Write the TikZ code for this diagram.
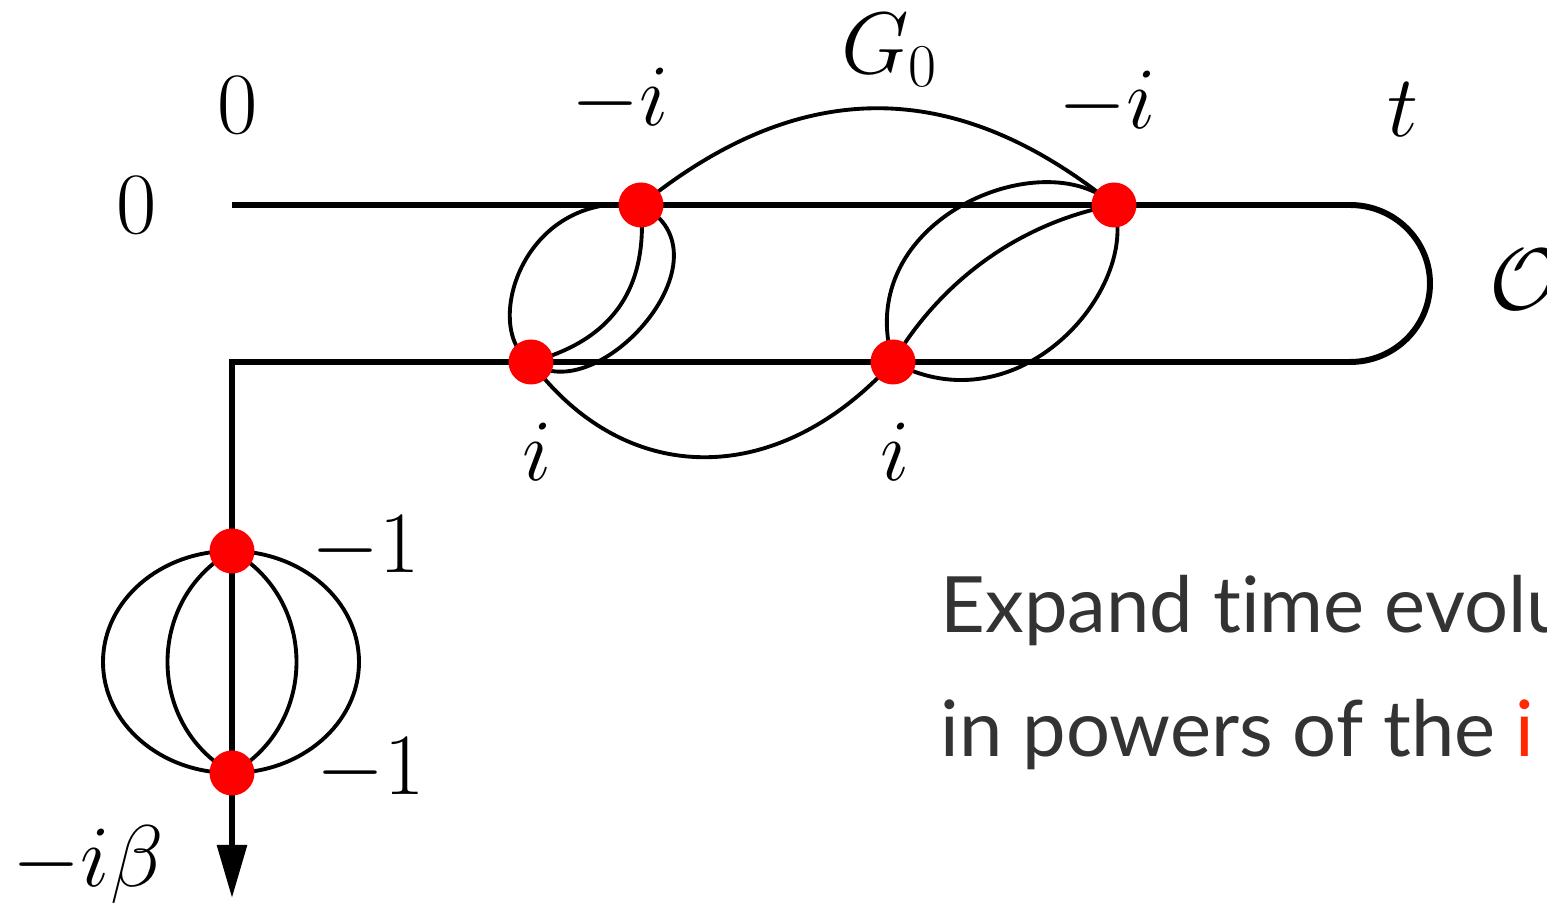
\documentclass[tikz,border=0pt]{standalone}
\usepackage{amsmath,amssymb}
\usepackage{fontspec}
\usepackage{xcolor}
\usepackage{tikz}
\usetikzlibrary{arrows.meta}
\newfontfamily\slidefont[Ligatures=NoCommon]{Lato}
\definecolor{vertexred}{RGB}{255,0,0}
\definecolor{slidegray}{RGB}{51,51,51}
\definecolor{slidered}{RGB}{255,40,0}

\begin{document}
\begin{tikzpicture}[x=0.01cm, y=-0.01cm,
  contour/.style={line width=1.7pt},
  prop/.style={line width=1.1pt},
  vertex/.style={fill=vertexred},
  slidetext/.style={anchor=base west, text=slidegray, font=\slidefont\fontsize{22.1}{26}\selectfont},
  every node/.style={font=\fontsize{25}{30}\selectfont, inner sep=0pt}]
  \useasboundingbox (0,0) rectangle (1547,907);
  \clip (0,0) rectangle (1547,907);
  \coordinate (start) at (232,205);
  \coordinate (turn) at (1350,205);
  \coordinate (corner) at (232,362);
  \coordinate (tip) at (232,898);
  \coordinate (ta) at (641,205);
  \coordinate (tb) at (1114,205);
  \coordinate (ba) at (531,362);
  \coordinate (bb) at (893,362);
  \coordinate (ea) at (232,551);
  \coordinate (eb) at (232,773);
  \coordinate (blob) at (231,662);
  \draw[contour, -{Triangle[length=0.53cm, width=0.29cm]}] (start) -- (turn) arc[start angle=-90, end angle=90, x radius=80, y radius=78.5] -- (corner) -- (tip);
  \draw[prop] (ta) .. controls +(-121,-15) and +(-50,-30) .. (ba);
  \draw[prop] (ba) .. controls +(65,50) and +(97,50) .. (ta);
  \draw[prop] (ta) .. controls +(8,90) and +(75,-20) .. (ba);
  \draw[prop] (ta) .. controls +(159,-129) and +(-159,-129) .. (tb);
  \draw[prop] (ba) .. controls +(95,127) and +(-115,127) .. (bb);
  \draw[prop] (tb) .. controls +(-70,-65) and +(-43,-142) .. (bb);
  \draw[prop] (bb) .. controls +(125,68) and +(26,85) .. (tb);
  \draw[prop] (bb) .. controls +(42,-72) and +(-104,20) .. (tb);
  \draw[prop] (blob) ellipse[x radius=128, y radius=111];
  \draw[prop] (ea) .. controls +(-86,48) and +(-86,-48) .. (eb);
  \draw[prop] (ea) .. controls +(86,48) and +(86,-48) .. (eb);
  \foreach \v in {ta,tb,ba,bb,ea,eb}
    \fill[vertex] (\v) circle[radius=22.5];
  \node (lzero1) at (238,105) {$0$};
  \node (lzero2) at (137,205) {$0$};
  \node (lmi1) at (620,100) {$-i$};
  \node (lgreen) at (890,50) {$G_0$};
  \node (lmi2) at (1107,103) {$-i$};
  \node (ltime) at (1403,110) {$t$};
  \node[anchor=west] (lop) at (1489,280) {$\mathcal{O}$};
  \node (li1) at (537,452) {$i$};
  \node (li2) at (895,452) {$i$};
  \node (lmone1) at (366,548) {$-1$};
  \node (lmone2) at (371,770) {$-1$};
  \node (lbeta) at (88,865) {$-i\beta$};
  \node[slidetext] (line1) at (940,633) {Expand time evolu};
  \node[slidetext] (line2) at (940,757) {in powers of the \textcolor{slidered}{i}};
\end{tikzpicture}
\end{document}
